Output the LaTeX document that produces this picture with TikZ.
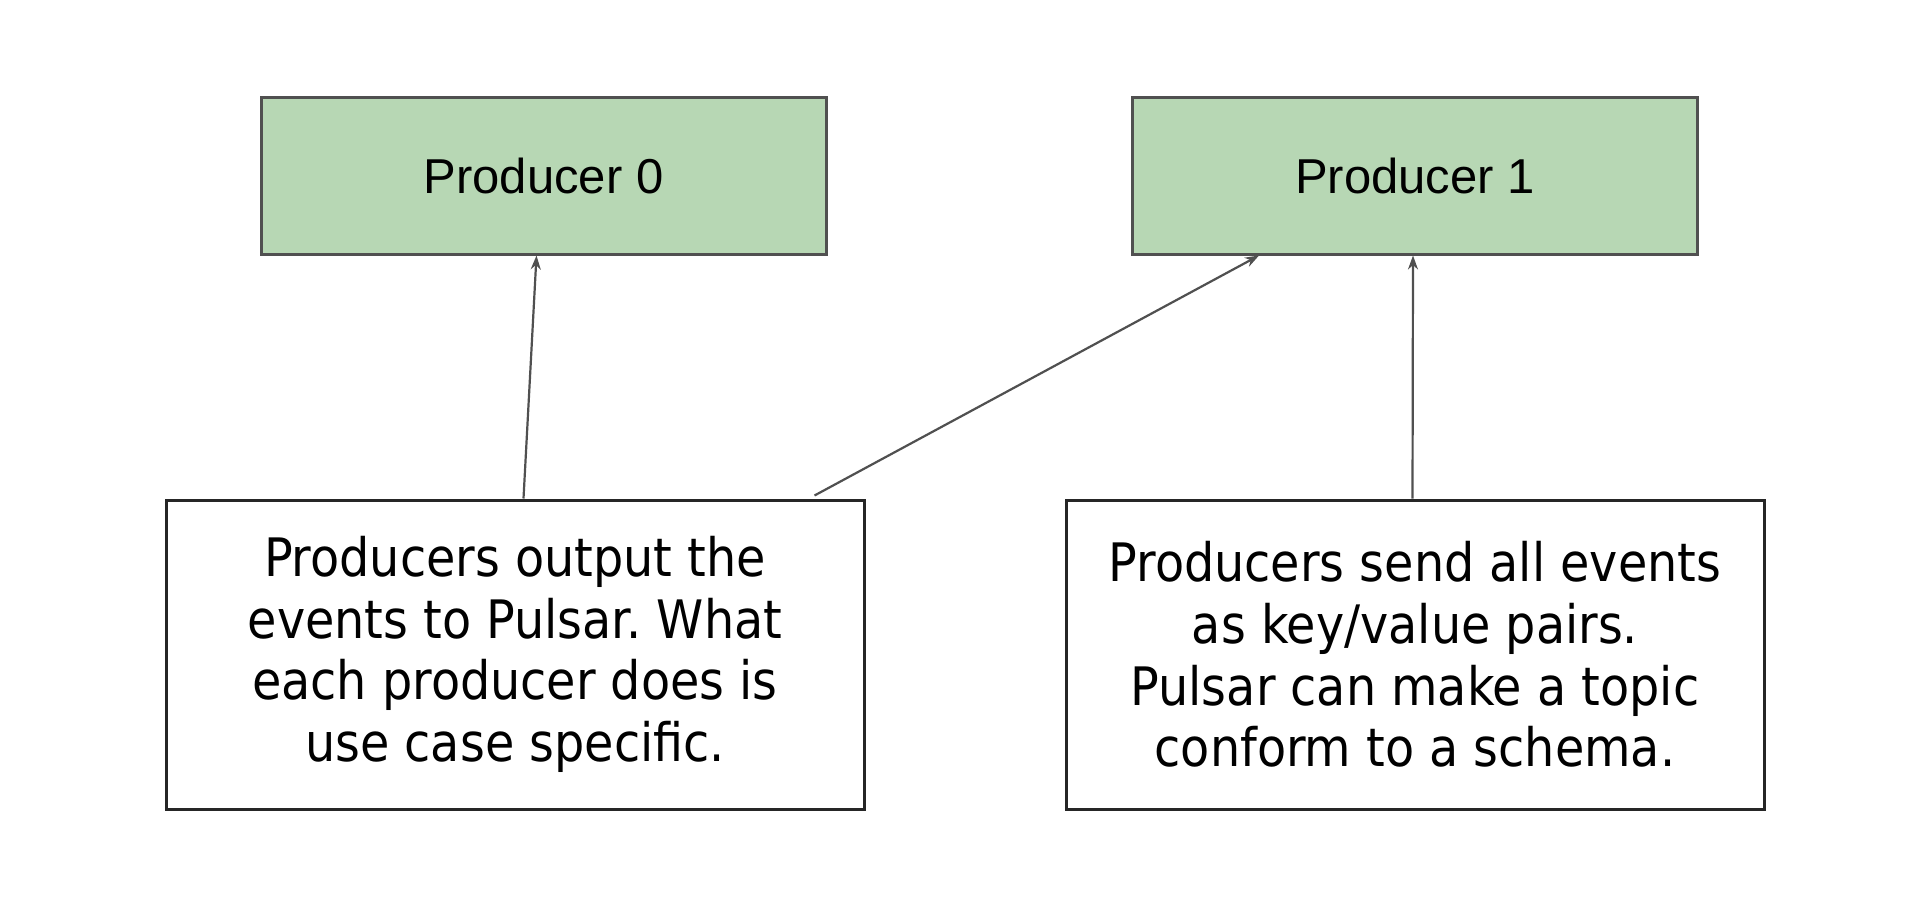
\documentclass[tikz,border=0pt]{standalone}
\usepackage{fontspec}
\setmainfont{Liberation Sans}
\newfontfamily\bodyfont{DejaVu Sans Condensed}
\usetikzlibrary{arrows.meta}
\definecolor{prodgreen}{RGB}{183,215,180}
\definecolor{edgegray}{RGB}{80,80,80}
\frenchspacing
\begin{document}
\begin{tikzpicture}[x=1pt,y=-1pt,
  prodbox/.style={draw=edgegray,line width=3pt,fill=prodgreen,minimum width=565pt,minimum height=157pt,inner sep=0pt,font=\fontsize{49}{58}\selectfont},
  notebox/.style={draw=black!85,line width=3pt,fill=white,minimum width=698pt,minimum height=309pt,inner sep=0pt,align=center,font=\bodyfont\fontsize{53}{61.6}\selectfont},
  arr/.style={draw=edgegray,line width=2.2pt,-{Stealth[length=14pt,width=10pt]}}]
\useasboundingbox (0,0) rectangle (1932,908);
\fill[white] (0,0) rectangle (1932,908);
\node[prodbox] (p0) at (543.5,175.5) {Producer 0};
\node[prodbox] (p1) at (1415,175.5) {Producer 1};
\node[notebox] (t0) at (515,654.5) {Producers output the\\events to Pulsar. What\\each producer does is\\use case specific.};
\node[notebox] (t1) at (1415,654.5) {Producers send all events\\as key/value pairs.\\Pulsar can make a topic\\conform to a schema.};
\draw[arr] ([xshift=359pt]t0.north west) -- ([xshift=277pt]p0.south west);
\draw[arr] ([xshift=650pt,yshift=3pt]t0.north west) -- ([xshift=128pt]p1.south west);
\draw[arr] ([xshift=348pt]t1.north west) -- ([xshift=282pt]p1.south west);
\end{tikzpicture}
\end{document}
